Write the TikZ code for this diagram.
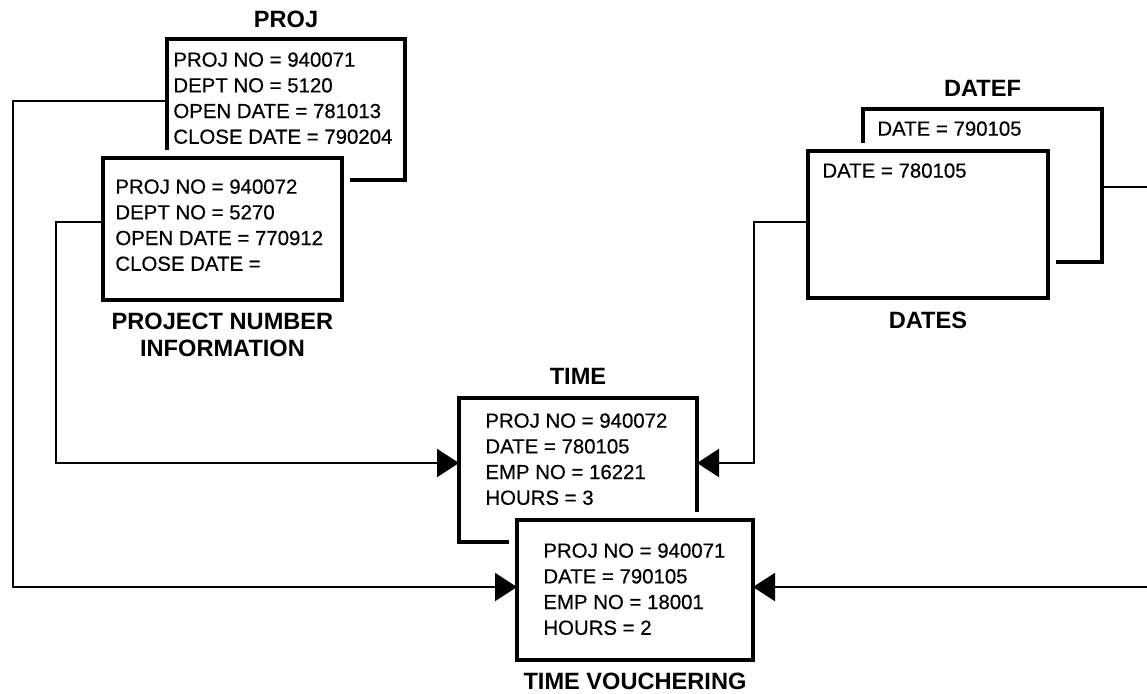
\documentclass[tikz,border=0pt]{standalone}
\usepackage{fontspec}
\setmainfont{Liberation Sans}
\newfontfamily\fieldfont{Liberation Sans}[FakeBold=0.5]
\usetikzlibrary{arrows.meta, positioning}

\begin{document}
\begin{tikzpicture}[
  x=0.5pt, y=-0.5pt,
  record/.style={rectangle, draw, line width=2.3pt, fill=white, inner sep=0pt, outer sep=0pt, anchor=north west},
  front/.style={record, preaction={draw=white, line width=8pt}},
  fields/.style={anchor=north west, inner sep=0pt, align=left, font=\fontsize{10.2pt}{12.85pt}\fieldfont},
  caption/.style={inner sep=0pt, align=center, font=\fontsize{11.8pt}{13.5pt}\selectfont\bfseries},
  link/.style={-{Triangle[length=11pt, width=14pt]}, line width=1pt}
]
\useasboundingbox (0,0) rectangle (1147,693);
\clip (0,0) rectangle (1147,693);

% records behind
\node[record, minimum width=119pt, minimum height=70.5pt] (proj) at (167,39) {};
\node[fields] (proj text) at ([shift={(6,13)}]proj.north west)
  {PROJ NO = 940071\\DEPT NO = 5120\\OPEN DATE = 781013\\CLOSE DATE = 790204};
\node[caption, above=5.5pt of proj] (proj name) {PROJ};

\node[record, minimum width=119.5pt, minimum height=76.5pt] (datef) at (863,109) {};
\node[fields] (datef text) at ([shift={(14,12)}]datef.north west) {DATE = 790105};
\node[caption, above=6pt of datef] (datef name) {DATEF};

\node[record, minimum width=119pt, minimum height=72pt] (time) at (459,398) {};
\node[fields] (time text) at ([shift={(26,15)}]time.north west)
  {PROJ NO = 940072\\DATE = 780105\\EMP NO = 16221\\HOURS = 3};
\node[caption, above=6.5pt of time] (time name) {TIME};

% records in front
\node[front, minimum width=119.5pt, minimum height=71pt] (pni) at (103,158) {};
\node[fields] (pni text) at ([shift={(12,21)}]pni.north west)
  {PROJ NO = 940072\\DEPT NO = 5270\\OPEN DATE = 770912\\CLOSE DATE =};
\node[caption, below=6.5pt of pni] (pni name) {PROJECT NUMBER\\INFORMATION};

\node[front, minimum width=120pt, minimum height=73.5pt] (dates) at (808,151) {};
\node[fields] (dates text) at ([shift={(14,12)}]dates.north west) {DATE = 780105};
\node[caption, below=7pt of dates] (dates name) {DATES};

\node[front, minimum width=118pt, minimum height=70pt] (tv) at (517,520) {};
\node[fields] (tv text) at ([shift={(26,23)}]tv.north west)
  {PROJ NO = 940071\\DATE = 790105\\EMP NO = 18001\\HOURS = 2};
\node[caption, below=6.5pt of tv] (tv name) {TIME VOUCHERING};

% connectors
\coordinate (pj bend) at (13,101);
\coordinate (pj foot) at (13,587);
\coordinate (pn bend) at (56,222);
\coordinate (pn foot) at (56,463);
\coordinate (ds bend) at (754,222);
\coordinate (ds foot) at (754,463);
\coordinate (df bend) at (1175,187);
\coordinate (df foot) at (1175,587);

\draw[link] (proj.west |- pj bend) -- (pj bend) -- (pj foot) -- (pj foot -| tv.west);
\draw[link] (pni.west |- pn bend) -- (pn bend) -- (pn foot) -- (pn foot -| time.west);
\draw[link] (dates.west |- ds bend) -- (ds bend) -- (ds foot) -- (ds foot -| time.east);
\draw[link] (datef.east |- df bend) -- (df bend) -- (df foot) -- (df foot -| tv.east);
\end{tikzpicture}
\end{document}
